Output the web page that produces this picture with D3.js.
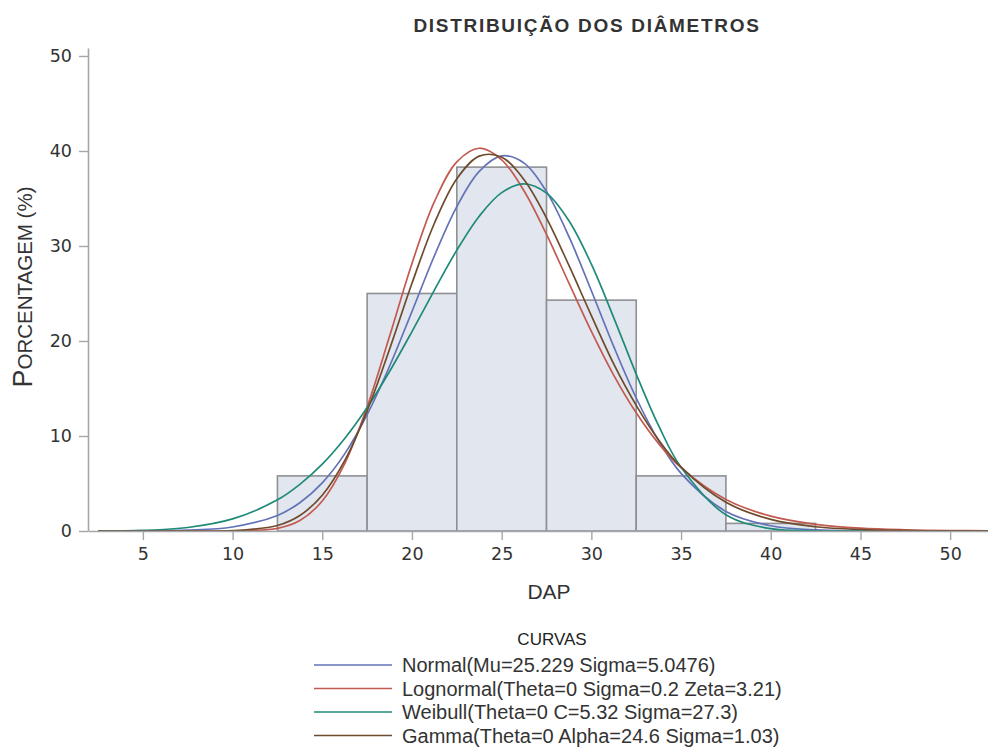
<!DOCTYPE html>
<html>
<head>
<meta charset="utf-8">
<script src="https://cdn.jsdelivr.net/npm/d3@7"></script>
<style>
  body { margin: 0; background: #fff; }
  svg { display: block; }
</style>
</head>
<body>
<div id="chart"></div>
<script>
// histogram bins (midpoints) and percentages
var binMid = [15, 20, 25, 30, 35, 40];
var binPct = [5.8, 25.0, 38.3, 24.3, 5.8, 0.8];
var binWidth = 5;

var curveX = [2.5, 5, 7.5, 10, 12.5, 13.75, 15, 16.25, 17.5, 18.75, 20, 21.25, 22.5, 23.75, 25,
  26.25, 27.5, 28.75, 30, 31.25, 32.5, 33.75, 35, 37.5, 40, 42.5, 45, 47.5, 50, 52.5];

var normalY = [0.002, 0.013, 0.083, 0.42, 1.64, 2.98, 5.07, 8.12, 12.24, 17.34, 23.11, 28.97, 34.15, 37.86, 39.48,
  38.72, 35.72, 30.98, 25.29, 19.40, 14.00, 9.50, 6.07, 2.06, 0.55, 0.11, 0.018, 0.002, 0, 0];
var lognormalY = [0, 0, 0, 0.005, 0.28, 1.10, 3.16, 7.09, 13.06, 20.49, 28.16, 34.66, 38.86, 40.29, 39.07,
  35.79, 31.21, 26.09, 21.01, 16.39, 12.44, 9.20, 6.67, 3.32, 1.56, 0.70, 0.30, 0.13, 0.05, 0.02];
var weibullY = [0.003, 0.064, 0.37, 1.27, 3.28, 4.91, 7.03, 9.73, 12.99, 16.79, 20.99, 25.36, 29.56, 33.14, 35.62,
  36.53, 35.56, 32.65, 28.08, 22.44, 16.52, 11.08, 6.70, 1.71, 0.25, 0.018, 0, 0, 0, 0];
var gammaY = [0, 0, 0, 0.034, 0.58, 1.63, 3.77, 7.40, 12.64, 19.13, 26.07, 32.39, 37.08, 39.46, 39.35,
  36.98, 32.94, 27.95, 22.67, 17.57, 13.23, 9.58, 6.72, 3.02, 1.22, 0.45, 0.15, 0.049, 0.014, 0.004];

var curveNames = ["Normal(Mu=25.229 Sigma=5.0476)", "Lognormal(Theta=0 Sigma=0.2 Zeta=3.21)",
  "Weibull(Theta=0 C=5.32 Sigma=27.3)", "Gamma(Theta=0 Alpha=24.6 Sigma=1.03)"];
var curveColors = ["#6272b8", "#c35a50", "#1f8a78", "#6e4b2c"];
var curveSeries = [normalY, lognormalY, weibullY, gammaY];

var xTicks = [5, 10, 15, 20, 25, 30, 35, 40, 45, 50];
var yTicks = [0, 10, 20, 30, 40, 50];

var svgWidth = 988, svgHeight = 747;
var plot = { left: 88, right: 988, top: 48, bottom: 531 };

var svg = d3.select("#chart").append("svg")
  .attr("width", svgWidth)
  .attr("height", svgHeight);

var x = d3.scaleLinear().domain([1.94, 52.11]).range([plot.left, plot.right]);
var y = d3.scaleLinear().domain([0, 50.84]).range([plot.bottom, plot.top]);

// clip so the curves stop at the frame
svg.append("clipPath").attr("id", "clip")
  .append("rect")
  .attr("x", plot.left).attr("y", plot.top)
  .attr("width", plot.right - plot.left).attr("height", plot.bottom - plot.top);

// bars
svg.append("g").selectAll("rect")
  .data(binMid)
  .enter()
  .append("rect")
  .attr("x", (d) => x(d - binWidth / 2))
  .attr("y", (d, i) => y(binPct[i]))
  .attr("width", (d) => x(d + binWidth / 2) - x(d - binWidth / 2))
  .attr("height", (d, i) => y(0) - y(binPct[i]))
  .attr("fill", "#e2e6ef")
  .attr("stroke", "#8e9094")
  .attr("stroke-width", 1.6);

// fitted curves
var line = d3.line()
  .x((d) => x(d[0]))
  .y((d) => y(d[1]))
  .curve(d3.curveCatmullRom.alpha(0.5));

svg.append("g").attr("clip-path", "url(#clip)")
  .selectAll("path")
  .data(curveSeries)
  .enter()
  .append("path")
  .attr("d", (s) => line(curveX.map((v, i) => [v, s[i]])))
  .attr("fill", "none")
  .attr("stroke", (s, i) => curveColors[i])
  .attr("stroke-width", 1.7);

// axes
var xAxis = svg.append("g")
  .attr("transform", `translate(0, ${plot.bottom})`)
  .call(d3.axisBottom(x).tickValues(xTicks).tickSize(9).tickSizeOuter(0).tickPadding(8));

var yAxis = svg.append("g")
  .attr("transform", `translate(${plot.left}, 0)`)
  .call(d3.axisLeft(y).tickValues(yTicks).tickSize(9).tickSizeOuter(0).tickPadding(7));

[xAxis, yAxis].forEach(function(ax) {
  ax.select(".domain").attr("stroke", "#a4a6aa").attr("stroke-width", 1.6);
  ax.selectAll(".tick line").attr("stroke", "#a4a6aa").attr("stroke-width", 1.4);
  ax.selectAll(".tick text")
    .attr("fill", "#333")
    .style("font-family", "DejaVu Sans, sans-serif")
    .style("font-size", "17.5px");
});

// title
svg.append("text")
  .attr("x", 587)
  .attr("y", 31.5)
  .attr("text-anchor", "middle")
  .style("font-family", "Liberation Sans, Arial, sans-serif")
  .style("font-weight", "bold")
  .style("font-size", "19px")
  .style("letter-spacing", "1.7px")
  .attr("fill", "#333")
  .text("DISTRIBUIÇÃO DOS DIÂMETROS");

// axis labels
svg.append("text")
  .attr("x", 549)
  .attr("y", 599)
  .attr("text-anchor", "middle")
  .style("font-family", "Liberation Sans, Arial, sans-serif")
  .style("font-size", "21px")
  .attr("fill", "#333")
  .text("DAP");

var yLabel = svg.append("text")
  .attr("transform", "translate(32, 287) rotate(-90)")
  .attr("text-anchor", "middle")
  .style("font-family", "Liberation Sans, Arial, sans-serif")
  .attr("fill", "#333");
yLabel.append("tspan").style("font-size", "27px").text("P");
yLabel.append("tspan").style("font-size", "20.5px").text("ORCENTAGEM (%)");

// legend
svg.append("text")
  .attr("x", 552)
  .attr("y", 645)
  .attr("text-anchor", "middle")
  .style("font-family", "Liberation Sans, Arial, sans-serif")
  .style("font-size", "17px")
  .attr("fill", "#222")
  .text("CURVAS");

var legend = svg.append("g").selectAll("g")
  .data(curveNames)
  .enter()
  .append("g")
  .attr("transform", (d, i) => `translate(0, ${665 + i * 23.5})`);

legend.append("line")
  .attr("x1", 314).attr("x2", 392)
  .attr("stroke", (d, i) => curveColors[i])
  .attr("stroke-width", 1.7);

legend.append("text")
  .attr("x", 402)
  .attr("y", 7)
  .style("font-family", "Liberation Sans, Arial, sans-serif")
  .style("font-size", "20px")
  .attr("fill", "#333")
  .text((d) => d);
</script>
</body>
</html>
